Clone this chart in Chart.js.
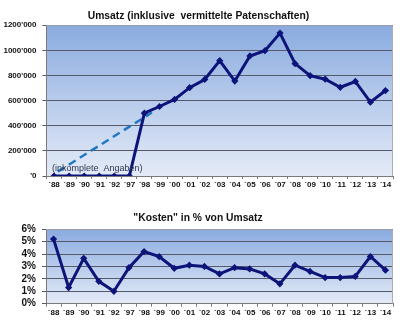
<!DOCTYPE html>
<html lang="de">
<head>
<meta charset="utf-8">
<script src="https://cdn.jsdelivr.net/npm/chart.js@4/dist/chart.umd.min.js"></script>
<style>
  html, body { margin: 0; padding: 0; background: #ffffff; }
  #wrap { position: relative; width: 400px; height: 326px; overflow: hidden; }
  #umsatz { position: absolute; left: 0; top: 0; }
  #kosten { position: absolute; left: 0; top: 210px; }
</style>
</head>
<body>
<div id="wrap">
  <canvas id="umsatz" width="400" height="196"></canvas>
  <canvas id="kosten" width="400" height="116"></canvas>
</div>
<script>
// Jahre (Kategorien)
const jahre = ["´88","´89","´90","´91","´92","´97","´98","´99","´00","´01","´02","´03","´04","´05","´06","´07","´08","´09","´10","´11","´12","´13","´14"];

// Umsatz inkl. vermittelte Patenschaften (CHF)
const umsatz = [0, 0, 0, 0, 0, 0, 500000, 553000, 609000, 703000, 768000, 918000, 755000, 955000, 997000, 1137000, 894000, 798000, 770000, 706000, 752000, 587000, 680000];

// Geschätzter Verlauf der Jahre mit unvollständigen Angaben (x = Kategorienindex)
const schaetzung = [{ x: 0.25, y: 35000 }, { x: 6.5, y: 505000 }];

// "Kosten" in Prozent vom Umsatz
const kostenProzent = [5.2, 1.3, 3.65, 1.8, 1.0, 2.9, 4.2, 3.8, 2.85, 3.1, 3.0, 2.4, 2.9, 2.8, 2.4, 1.6, 3.1, 2.6, 2.1, 2.1, 2.2, 3.8, 2.7];

// Achsenbeschriftungen
const umsatzTicks = ["'0", "200'000", "400'000", "600'000", "800'000", "1000'000", "1200'000"];
const prozentTicks = ["0%", "1%", "2%", "3%", "4%", "5%", "6%"];

const FONT = "'Liberation Sans', Arial, sans-serif";
const LINIE = '#0d1479';
const GITTER = '#55596a';

// Hintergrundverlauf der Zeichenfläche
const verlauf = {
  id: 'verlauf',
  beforeDraw(chart) {
    const { ctx, chartArea: a } = chart;
    const g = ctx.createLinearGradient(0, a.top, 0, a.bottom);
    g.addColorStop(0, '#8aabe0');
    g.addColorStop(1, '#e4ebf7');
    ctx.save();
    ctx.fillStyle = g;
    ctx.fillRect(a.left, a.top, a.right - a.left, a.bottom - a.top);
    ctx.restore();
  },
  afterDraw(chart) {
    const { ctx, chartArea: a } = chart;
    ctx.save();
    ctx.strokeStyle = '#a9aeb8';
    ctx.lineWidth = 1;
    ctx.beginPath();
    ctx.moveTo(a.left, a.top + 0.5);
    ctx.lineTo(a.right - 0.5, a.top + 0.5);
    ctx.lineTo(a.right - 0.5, a.bottom);
    ctx.stroke();
    ctx.restore();
  }
};

// Hinweis zu den Anfangsjahren
const hinweis = {
  id: 'hinweis',
  afterDatasetsDraw(chart) {
    const { ctx, scales } = chart;
    ctx.save();
    ctx.font = '9px ' + FONT;
    ctx.fillStyle = '#2b3550';
    ctx.textBaseline = 'middle';
    ctx.fillText('(inkomplete  Angaben)', scales.x.getPixelForValue(0) - 2, scales.y.getPixelForValue(0) - 7);
    ctx.restore();
  }
};

function achseX() {
  return {
    type: 'category',
    offset: true,
    grid: { display: true, offset: true, drawOnChartArea: false, drawTicks: true, tickLength: 3, color: '#7a7a7a' },
    border: { display: true, color: '#7a7a7a' },
    ticks: { font: { family: FONT, size: 8, weight: 'bold' }, color: '#111', padding: 1, maxRotation: 0, autoSkip: false }
  };
}

function titel(text, oben, unten) {
  return {
    display: true,
    text: text,
    color: '#111',
    font: { family: FONT, size: 10.3, weight: 'bold', lineHeight: 1.28 },
    padding: { top: oben, bottom: unten }
  };
}

new Chart(document.getElementById('umsatz'), {
  type: 'line',
  data: {
    labels: jahre,
    datasets: [
      {
        data: umsatz,
        borderColor: LINIE,
        backgroundColor: LINIE,
        borderWidth: 3,
        pointStyle: 'rectRot',
        pointRadius: 1.5,
        tension: 0
      },
      {
        data: schaetzung,
        xAxisID: 'xl',
        borderColor: '#1f78c2',
        borderWidth: 2.5,
        borderDash: [8, 5],
        pointRadius: 0,
        tension: 0
      }
    ]
  },
  options: {
    responsive: false,
    animation: false,
    layout: { padding: { left: 0, right: 3, top: 0, bottom: 0 } },
    plugins: {
      legend: { display: false },
      tooltip: { enabled: false },
      title: titel('Umsatz (inklusive  vermittelte Patenschaften)', 10, 2)
    },
    scales: {
      x: Object.assign(achseX(), { afterFit(s) { s.height = 20; } }),
      xl: { type: 'linear', display: false, min: -0.5, max: 22.5 },
      y: {
        min: 0, max: 1200000,
        afterFit(s) { s.width = 46.5; },
        afterBuildTicks(s) { s.ticks = umsatzTicks.map((t, i) => ({ value: i * 200000 })); },
        grid: { color: GITTER, lineWidth: 1, tickLength: 4, drawTicks: true },
        border: { display: true, color: '#7a7a7a' },
        ticks: {
          font: { family: FONT, size: 8, weight: 'bold' }, color: '#111', padding: 6, autoSkip: false,
          callback: (v, i) => umsatzTicks[i]
        }
      }
    }
  },
  plugins: [verlauf, hinweis]
});

new Chart(document.getElementById('kosten'), {
  type: 'line',
  data: {
    labels: jahre,
    datasets: [{
      data: kostenProzent,
      borderColor: LINIE,
      backgroundColor: LINIE,
      borderWidth: 3,
      pointStyle: 'rectRot',
      pointRadius: 1.5,
      tension: 0
    }]
  },
  options: {
    responsive: false,
    animation: false,
    layout: { padding: { left: 0, right: 4, top: 0, bottom: 0 } },
    plugins: {
      legend: { display: false },
      tooltip: { enabled: false },
      title: titel('"Kosten" in % von Umsatz', 2, 4)
    },
    scales: {
      x: Object.assign(achseX(), { afterFit(s) { s.height = 22.3; } }),
      y: {
        min: 0, max: 6,
        afterFit(s) { s.width = 46; },
        afterBuildTicks(s) { s.ticks = prozentTicks.map((t, i) => ({ value: i })); },
        grid: { color: GITTER, lineWidth: 1, tickLength: 4, drawTicks: true },
        border: { display: true, color: '#7a7a7a' },
        ticks: {
          font: { family: FONT, size: 10, weight: 'bold' }, color: '#111', padding: 6, autoSkip: false,
          callback: (v, i) => prozentTicks[i]
        }
      }
    }
  },
  plugins: [verlauf]
});
</script>
</body>
</html>
